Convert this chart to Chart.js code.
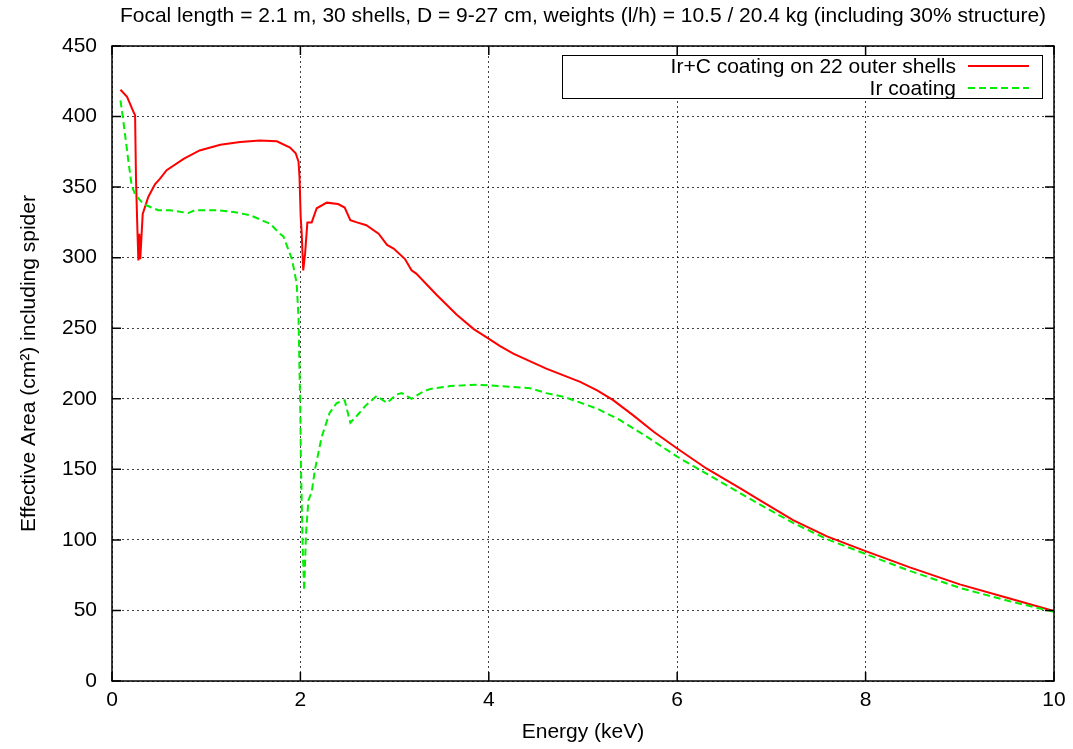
<!DOCTYPE html>
<html>
<head>
<meta charset="utf-8">
<script src="https://cdn.jsdelivr.net/npm/chart.js@4.4.1/dist/chart.umd.min.js"></script>
<style>
  html, body { margin: 0; padding: 0; background: #fff; }
  #wrap { width: 1073px; height: 749px; position: relative; }
</style>
</head>
<body>
<div id="wrap"><canvas id="effArea"></canvas></div>
<script>
'use strict';

// Ir+C coating on 22 outer shells (keV, cm2)
const energyIrC = [0.09, 0.16, 0.23, 0.245, 0.255, 0.27, 0.28, 0.29, 0.30, 0.326, 0.385, 0.456, 0.51, 0.58, 0.76, 0.93, 1.15, 1.36, 1.57, 1.75, 1.89, 1.95, 1.98, 1.99, 2.003, 2.014, 2.03, 2.05, 2.074, 2.12, 2.173, 2.28, 2.40, 2.47, 2.53, 2.60, 2.70, 2.83, 2.92, 2.99, 3.11, 3.18, 3.23, 3.45, 3.66, 3.84, 3.99, 4.12, 4.26, 4.61, 4.97, 5.15, 5.32, 5.53, 5.75, 6.0, 6.31, 6.67, 6.88, 7.23, 7.59, 8.0, 8.47, 9.0, 9.53, 10.0];
const areaIrC = [419, 414, 403, 401, 355, 319, 298, 317, 299, 331, 343, 352, 356, 362, 370, 376, 380, 382, 383, 382.5, 378, 374, 368, 358, 329, 317, 291, 303, 325, 325, 335, 339, 338, 335.5, 326.6, 325, 323, 317, 309, 306.4, 299, 291, 288.7, 273.4, 259.5, 249.4, 243, 237.3, 232, 221.4, 212, 206, 199, 188.4, 176.6, 164.8, 150.6, 136.5, 128, 114, 102.5, 92, 80.5, 68.5, 58.5, 49.5];

// Ir coating (keV, cm2)
const energyIr = [0.09, 0.12, 0.173, 0.209, 0.244, 0.333, 0.49, 0.62, 0.81, 0.88, 1.11, 1.29, 1.47, 1.68, 1.78, 1.82, 1.91, 1.96, 1.98, 2.0, 2.006, 2.025, 2.04, 2.06, 2.085, 2.12, 2.155, 2.226, 2.31, 2.385, 2.47, 2.53, 2.60, 2.69, 2.81, 2.92, 3.02, 3.075, 3.18, 3.30, 3.38, 3.59, 3.87, 4.12, 4.44, 4.61, 4.79, 4.90, 5.15, 5.39, 5.68, 6.0, 6.31, 6.67, 6.88, 7.23, 7.59, 8.0, 8.47, 9.0, 9.53, 10.0];
const areaIr = [411.5, 397, 369, 351, 345, 338, 333.6, 333.6, 331.6, 333.6, 333.6, 332.4, 330, 324, 317, 315, 299, 282, 258, 187, 152, 93, 64, 105, 128, 134, 150, 173, 190, 197, 199, 183, 188, 195, 202, 197, 203, 204, 200, 205, 207, 209, 210, 209, 207.5, 204, 201.5, 199, 193, 185, 173, 159, 147, 133, 125, 112, 100.5, 90, 78, 66, 56.5, 49];

const seriesLabels = ['Ir+C coating on 22 outer shells', 'Ir coating'];
const xTicks = [0, 2, 4, 6, 8, 10];
const yTicks = [0, 50, 100, 150, 200, 250, 300, 350, 400, 450];

const FONT = 'Liberation Sans, Arial, Helvetica, sans-serif';
const FSIZE = 21;

function toPoints(xs, ys) {
  return xs.map((x, i) => ({ x: x, y: ys[i] }));
}

// border with inward mirrored ticks + gnuplot style key
const gnuFrame = {
  id: 'gnuFrame',
  afterDatasetsDraw(chart) {
    const { ctx, chartArea: a, scales: { x, y } } = chart;
    ctx.save();
    ctx.strokeStyle = '#000';
    ctx.lineWidth = 1.5;
    ctx.setLineDash([]);
    ctx.strokeRect(a.left, a.top, a.right - a.left, a.bottom - a.top);
    ctx.beginPath();
    x.ticks.forEach(t => {
      const px = x.getPixelForValue(t.value);
      ctx.moveTo(px, a.bottom); ctx.lineTo(px, a.bottom - 9);
      ctx.moveTo(px, a.top); ctx.lineTo(px, a.top + 9);
    });
    y.ticks.forEach(t => {
      const py = y.getPixelForValue(t.value);
      ctx.moveTo(a.left, py); ctx.lineTo(a.left + 9, py);
      ctx.moveTo(a.right, py); ctx.lineTo(a.right - 9, py);
    });
    ctx.stroke();

    // key box
    const bx = a.left + 450, by = a.top + 9, bw = a.right - 12 - bx, bh = 43;
    ctx.fillStyle = '#fff';
    ctx.fillRect(bx, by, bw, bh);
    ctx.lineWidth = 1;
    ctx.strokeRect(bx + 0.5, by + 0.5, bw, bh);
    ctx.font = FSIZE + 'px ' + FONT;
    ctx.textAlign = 'right';
    ctx.textBaseline = 'middle';
    chart.data.datasets.forEach((ds, i) => {
      const ly = a.top + 20 + i * 22;
      ctx.fillStyle = '#000';
      ctx.fillText(ds.label, a.right - 98, ly + 1);
      ctx.strokeStyle = ds.borderColor;
      ctx.lineWidth = ds.borderWidth;
      ctx.setLineDash(ds.borderDash || []);
      ctx.beginPath();
      ctx.moveTo(a.right - 86, ly);
      ctx.lineTo(a.right - 25, ly);
      ctx.stroke();
    });
    ctx.restore();
  }
};

const ctx = document.getElementById('effArea');
new Chart(ctx, {
  type: 'line',
  data: {
    datasets: [
      {
        label: seriesLabels[0],
        data: toPoints(energyIrC, areaIrC),
        borderColor: '#ff0000', borderWidth: 2,
        pointRadius: 0, tension: 0, order: 1
      },
      {
        label: seriesLabels[1],
        data: toPoints(energyIr, areaIr),
        borderColor: '#00ee00', borderWidth: 2, borderDash: [7, 4],
        pointRadius: 0, tension: 0, order: 0
      }
    ]
  },
  options: {
    responsive: true, maintainAspectRatio: false, animation: false,
    layout: { padding: { left: 0, right: 19, top: 0, bottom: 0 } },
    plugins: {
      legend: { display: false },
      tooltip: { enabled: false },
      title: {
        display: true, fullSize: false,
        text: 'Focal length = 2.1 m, 30 shells, D = 9-27 cm, weights (l/h) = 10.5 / 20.4 kg (including 30% structure)',
        color: '#000', font: { family: FONT, size: FSIZE, weight: 'normal' },
        padding: { top: 4, bottom: 16.8 }
      }
    },
    scales: {
      x: {
        type: 'linear', min: 0, max: 10,
        afterBuildTicks: s => { s.ticks = xTicks.map(v => ({ value: v })); },
        afterFit: s => { s.height = 68; },
        ticks: { color: '#000', font: { family: FONT, size: FSIZE }, padding: 7, maxRotation: 0 },
        grid: { color: 'rgba(0,0,0,0.75)', lineWidth: 1, drawTicks: false },
        border: { display: false, dash: [2, 3] },
        title: { display: true, text: 'Energy (keV)', color: '#000', font: { family: FONT, size: FSIZE }, padding: { top: 0, bottom: 4 } }
      },
      y: {
        min: 0, max: 450,
        afterBuildTicks: s => { s.ticks = yTicks.map(v => ({ value: v })); },
        afterFit: s => { s.width = 112; },
        ticks: { color: '#000', font: { family: FONT, size: FSIZE }, padding: 15 },
        grid: { color: 'rgba(0,0,0,0.75)', lineWidth: 1, drawTicks: false },
        border: { display: false, dash: [2, 3] },
        title: { display: true, text: 'Effective Area (cm²) including spider', color: '#000', font: { family: FONT, size: FSIZE }, padding: { top: 17, bottom: 0 } }
      }
    }
  },
  plugins: [gnuFrame]
});
</script>
</body>
</html>
